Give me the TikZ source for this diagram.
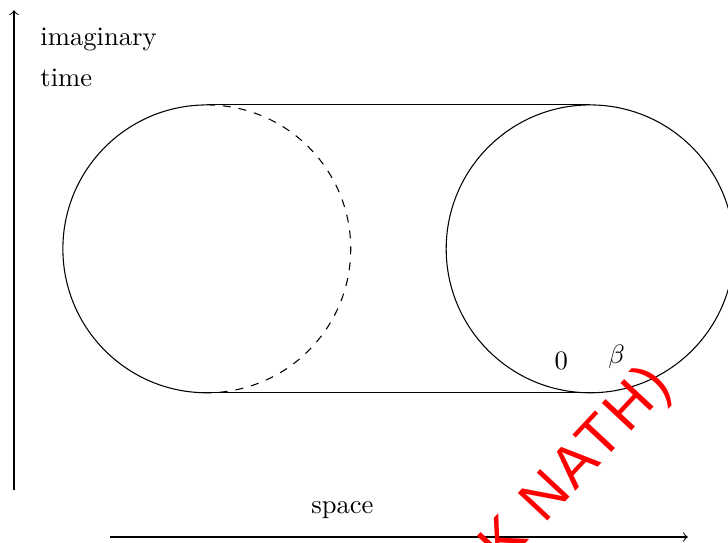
\documentclass[tikz,border=0pt]{standalone}
\usepackage{amsmath}
\usepackage{amssymb}
\usepackage{fontspec}
\newfontfamily\markfont[LetterSpace=6]{Liberation Sans}
\usetikzlibrary{positioning}

\begin{document}
\begin{tikzpicture}
    \useasboundingbox (0,0) rectangle (9.61,7.155);
    % axes
    \coordinate (tlow) at (0.185,0.69);
    \coordinate (thigh) at (0.185,7.02);
    \coordinate (sleft) at (1.45,0.066);
    \coordinate (sright) at (9.08,0.066);
    \draw[->] (tlow) -- (thigh);
    \draw[->] (sleft) -- (sright);
    \node[anchor=base west] (imag) at (0.41,6.55) {imaginary};
    \node[anchor=base west] (time) at (0.41,6.01) {time};
    \node[anchor=base] (space) at (4.52,0.37) {space};
    % cylinder
    \coordinate (ltop) at (2.73,5.77);
    \coordinate (lbot) at (2.73,1.97);
    \coordinate (rtop) at (7.79,5.77);
    \coordinate (rbot) at (7.79,1.97);
    \draw (ltop) arc (90:270:1.9);
    \draw[dashed] (ltop) arc (90:-90:1.9);
    \draw (7.79,3.87) circle (1.9);
    \draw (ltop) -- (rtop)
    (lbot) -- (rbot);
    \node[anchor=base] (zero) at (7.41,2.28) {$0$};
    \node[anchor=base] (beta) at (8.14,2.36) {$\beta$};
    \node[red, rotate=47, font=\markfont\fontsize{22}{26}\selectfont] (mark) at (7.62,0.99) {K NATH)};
  \end{tikzpicture}
\end{document}
